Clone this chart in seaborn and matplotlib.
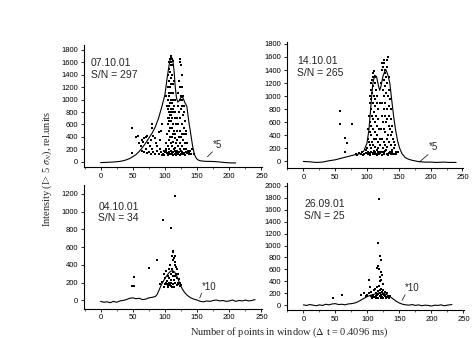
import numpy as np
import matplotlib
matplotlib.use("Agg")
import matplotlib.pyplot as plt
from matplotlib.ticker import MultipleLocator
import seaborn as sns

# ---- data ----
dates = ["07.10.01", "14.10.01", "04.10.01", "26.09.01"]
snr = [297, 265, 34, 25]
scale_marks = ["*5", "*5", "*10", "*10"]

curve1_x = [0, 5, 10, 15, 20, 25, 30, 35, 40, 45, 50, 55, 60, 65, 70, 75, 80, 85, 90, 95, 100, 103, 106, 108,
            110, 112, 114, 116, 118, 120, 122, 125, 128, 131, 134, 137, 140, 143, 146, 149, 152, 155, 160, 165,
            170, 175, 180, 185, 190, 195, 200, 205, 210]
curve1_y = [-15, -12, -10, -8, -5, 0, 5, 15, 30, 50, 80, 115, 165, 230, 300, 380, 460, 560, 700, 880, 1080,
            1320, 1530, 1640, 1690, 1640, 1480, 1200, 1020, 960, 980, 1040, 1030, 950, 890, 650, 450, 250, 110,
            50, 25, 15, 8, 5, 5, 3, 0, -5, -10, -15, -18, -20, -20]

curve2_x = [0, 10, 20, 30, 40, 50, 60, 70, 80, 85, 90, 95, 100, 103, 106, 109, 112, 115, 118, 120, 122, 125,
            128, 130, 133, 136, 139, 142, 145, 148, 151, 155, 160, 165, 170, 175, 180, 190, 200, 210, 220, 230, 240]
curve2_y = [0, -5, -15, -10, 10, 25, 50, 75, 100, 110, 120, 160, 280, 480, 830, 1180, 1320, 1300, 1160, 1090,
            1150, 1300, 1380, 1400, 1320, 1190, 930, 680, 480, 320, 210, 120, 60, 35, 20, 10, 0, -10, -10, -15,
            -10, -15, -15]

curve3_x = [0, 5, 10, 15, 20, 25, 30, 35, 40, 45, 50, 55, 60, 65, 70, 75, 80, 85, 88, 91, 94, 97, 100, 103,
            106, 109, 112, 115, 118, 121, 124, 127, 130, 133, 136, 140, 145, 150, 155, 160, 165, 170, 175, 180,
            185, 190, 195, 200, 205, 210, 215, 220, 225, 230, 235, 240]
curve3_y = [-10, -20, -15, -25, -10, -20, -5, 0, 10, 25, 30, 20, 25, 10, 15, 30, 35, 45, 70, 120, 170, 210,
            250, 280, 310, 330, 335, 320, 280, 230, 170, 130, 95, 70, 50, 30, 15, 5, -10, -15, -5, -10, 0, 5, -5,
            0, -10, -5, 5, -10, 0, -5, 5, -5, 0, 10]

curve4_x = [0, 5, 10, 15, 20, 25, 30, 35, 40, 45, 50, 55, 60, 65, 70, 75, 80, 85, 90, 95, 100, 105, 110, 115,
            120, 125, 130, 135, 140, 145, 150, 155, 160, 165, 170, 175, 180, 185, 190, 195, 200, 205, 210, 215,
            220, 225, 232]
curve4_y = [10, 0, 15, 5, -5, 10, 0, 20, 10, 25, 30, 15, 20, 10, 25, 30, 40, 60, 90, 120, 150, 170, 185, 200,
            215, 205, 180, 150, 110, 70, 40, 20, 10, 5, 15, 0, 10, -5, 5, 0, -10, 5, 0, 10, -5, 5, 15]

dots1 = [(48, 550), (48, 140), (55, 400), (58, 420), (60, 300), (62, 250), (64, 350), (66, 320), (68, 380),
         (70, 400), (72, 420), (74, 300), (76, 250), (78, 350), (80, 600), (80, 550), (82, 420), (84, 380),
         (86, 300), (88, 260), (90, 480), (92, 350), (94, 500), (96, 600), (65, 180), (68, 150), (70, 200),
         (72, 140), (75, 160), (78, 120), (80, 200), (82, 150), (85, 130), (88, 180), (90, 120), (92, 200),
         (94, 150), (96, 110), (98, 180),
         (100, 150), (101, 300), (102, 1050), (102, 200), (103, 900), (103, 450), (104, 1200), (104, 700),
         (104, 120), (105, 1400), (105, 1000), (105, 600), (105, 250), (106, 1500), (106, 1300), (106, 800),
         (106, 350), (106, 150), (107, 1600), (107, 1100), (107, 900), (107, 500), (107, 200), (108, 1650),
         (108, 1450), (108, 1200), (108, 750), (108, 400), (108, 130), (109, 1700), (109, 1550), (109, 1000),
         (109, 650), (109, 300), (110, 1680), (110, 1600), (110, 1350), (110, 850), (110, 550), (110, 180),
         (111, 1650), (111, 1400), (111, 950), (111, 700), (111, 250), (112, 1620), (112, 1250), (112, 800),
         (112, 450), (112, 150), (113, 1550), (113, 1100), (113, 600), (113, 320), (114, 1300), (114, 900),
         (114, 500), (114, 200), (115, 1000), (115, 700), (115, 380), (115, 120), (116, 800), (116, 450),
         (116, 220), (117, 600), (117, 300), (117, 140),
         (106, 1050), (107, 700), (108, 950), (109, 800), (110, 1100), (111, 550), (105, 850), (109, 1250),
         (110, 750), (108, 550), (107, 350), (111, 400), (106, 650), (112, 1000), (113, 850), (110, 300),
         (118, 500), (118, 180), (119, 700), (119, 350), (120, 900), (120, 250), (120, 120), (121, 1100),
         (121, 600), (122, 1300), (122, 800), (122, 400), (122, 150), (123, 1600), (123, 1000), (123, 500),
         (123, 200), (124, 1650), (124, 1200), (124, 700), (124, 300), (125, 1550), (125, 1050), (125, 850),
         (125, 400), (125, 130), (126, 1400), (126, 1000), (126, 600), (126, 250), (127, 1200), (127, 900),
         (127, 450), (127, 160), (128, 1050), (128, 750), (128, 350), (129, 900), (129, 550), (129, 200),
         (130, 800), (130, 450), (130, 130), (131, 650), (131, 300), (132, 500), (132, 200), (133, 450),
         (133, 150), (135, 300), (136, 180), (138, 150), (140, 120), (142, 200), (145, 130),
         (97, 130), (99, 110), (101, 170), (103, 140), (105, 110), (107, 160), (109, 120), (111, 140),
         (113, 110), (115, 170), (117, 100), (119, 130), (121, 160), (123, 110), (125, 180), (127, 120),
         (129, 140), (131, 110), (133, 200), (135, 140), (137, 120), (139, 170)]

dots2 = [(58, 780), (58, 570), (65, 360), (68, 280), (66, 150), (77, 570),
         (82, 120), (85, 100), (88, 130), (90, 110), (92, 150), (94, 100), (96, 120), (98, 180), (99, 130),
         (100, 200), (101, 350), (102, 500), (102, 150), (103, 700), (103, 300), (104, 900), (104, 450),
         (104, 120), (105, 1000), (105, 600), (105, 250), (106, 1100), (106, 800), (106, 400), (106, 150),
         (107, 1200), (107, 950), (107, 550), (107, 200), (108, 1250), (108, 1050), (108, 700), (108, 300),
         (109, 1300), (109, 900), (109, 500), (109, 130), (110, 1350), (110, 1150), (110, 650), (110, 250),
         (111, 1380), (111, 1000), (111, 750), (111, 350), (112, 1300), (112, 850), (112, 450), (112, 150),
         (113, 1200), (113, 950), (113, 600), (113, 220), (114, 1100), (114, 700), (114, 350), (115, 1000),
         (115, 550), (115, 180), (116, 900), (116, 400), (116, 120), (117, 800), (117, 300), (118, 650),
         (118, 200), (119, 500), (120, 350), (120, 150),
         (121, 900), (121, 250), (122, 1200), (122, 500), (123, 1400), (123, 700), (123, 150), (124, 1500),
         (124, 900), (124, 350), (125, 1450), (125, 1100), (125, 600), (125, 200), (126, 1550), (126, 1250),
         (126, 800), (126, 300), (127, 1500), (127, 1000), (127, 500), (127, 130), (128, 1400), (128, 1150),
         (128, 700), (128, 250), (129, 1350), (129, 900), (129, 450), (130, 1300), (130, 1050), (130, 600),
         (130, 180), (131, 1450), (131, 800), (131, 350), (132, 1550), (132, 1200), (132, 650), (132, 220),
         (133, 1600), (133, 1000), (133, 400), (133, 120), (134, 1300), (134, 850), (134, 550), (135, 1100),
         (135, 700), (135, 300), (136, 950), (136, 500), (136, 150), (137, 800), (137, 400), (138, 650),
         (138, 250), (139, 550), (140, 450), (140, 180), (141, 350), (142, 300), (143, 200), (144, 250),
         (145, 150), (146, 120), (148, 140),
         (101, 110), (103, 130), (105, 100), (107, 140), (109, 110), (111, 160), (113, 120), (115, 100),
         (117, 140), (119, 110), (121, 130), (123, 100), (125, 140), (127, 110), (129, 160), (131, 120),
         (133, 100), (135, 130), (137, 110), (139, 140), (141, 120), (143, 110)]

dots3 = [(48, 160), (52, 160), (52, 260), (75, 360), (88, 450), (97, 900), (110, 820), (115, 1170),
         (92, 190), (95, 210), (98, 300), (100, 250), (100, 180), (102, 330), (103, 220), (104, 150),
         (105, 280), (106, 350), (106, 200), (107, 250), (108, 180), (108, 400), (109, 300), (110, 230),
         (110, 160), (111, 500), (111, 350), (112, 560), (112, 270), (112, 190), (113, 540), (113, 450),
         (113, 320), (114, 480), (114, 230), (114, 150), (115, 500), (115, 400), (115, 280), (116, 430),
         (116, 200), (117, 380), (117, 300), (118, 350), (118, 170), (119, 250), (120, 300), (120, 200),
         (121, 180), (122, 240), (123, 160), (124, 200), (125, 170), (103, 180), (105, 160), (107, 170),
         (109, 200), (111, 150), (99, 150), (101, 200)]

dots4 = [(46, 130), (60, 170), (90, 170), (95, 200), (102, 420), (118, 1780), (116, 1050), (120, 820),
         (122, 750), (115, 620), (117, 650), (118, 600), (121, 560), (123, 500), (119, 480), (122, 430),
         (120, 400), (124, 350), (104, 300), (106, 220), (108, 180), (110, 250), (112, 280), (113, 200),
         (114, 160), (115, 300), (116, 240), (117, 190), (118, 330), (119, 260), (120, 210), (121, 170),
         (122, 280), (123, 230), (124, 190), (125, 250), (126, 170), (127, 220), (128, 180), (130, 200),
         (132, 160), (105, 150), (107, 130), (109, 160), (111, 140), (113, 120), (115, 170), (117, 130),
         (119, 150), (121, 120), (123, 140), (125, 130), (127, 150), (129, 130), (131, 140), (133, 120),
         (135, 150), (100, 180), (98, 160), (103, 200)]

# where the "*N" scale marks sit (data coords: leader start, text anchor)
mark_lines = [((166, 80), (174, 160)), ((182, -10), (196, 105)), ((154, 27), (157, 83)), ((154, 83), (159, 178))]
mark_text = [(175, 190), (197, 140), (157, 100), (159, 215)]

ylims = [(-85, 1880), (-100, 1830), (-95, 1300), (-75, 2045)]
ytick_max = [1800, 1800, 1200, 2000]

# ---- layout (figure fractions) ----
boxes = [[0.177, 0.506, 0.376, 0.361],
         [0.605, 0.503, 0.372, 0.373],
         [0.177, 0.086, 0.376, 0.367],
         [0.605, 0.083, 0.374, 0.376]]
text_pos = [(0.04, 0.89), (0.058, 0.885), (0.08, 0.865), (0.10, 0.87)]

sns.set_theme(style="ticks")
plt.rcParams['font.family'] = ['Liberation Sans', 'DejaVu Sans']
plt.rcParams['mathtext.fontset'] = 'stix'

fig = plt.figure(figsize=(4.74, 3.38), dpi=100)

curves = [(curve1_x, curve1_y), (curve2_x, curve2_y), (curve3_x, curve3_y), (curve4_x, curve4_y)]
dot_sets = [dots1, dots2, dots3, dots4]

for i in range(4):
    ax = fig.add_axes(boxes[i])
    d = np.array(dot_sets[i])
    sns.scatterplot(x=d[:, 0], y=d[:, 1], ax=ax, color='black', s=1.8, marker='s',
                    linewidth=0, legend=False)
    cx, cy = curves[i]
    sns.lineplot(x=cx, y=cy, ax=ax, color='black', linewidth=0.8, sort=False, estimator=None)

    (x0, y0), (x1, y1) = mark_lines[i]
    ax.plot([x0, x1], [y0, y1], color='black', linewidth=0.5)
    ax.text(mark_text[i][0], mark_text[i][1], scale_marks[i], fontsize=7, va='bottom', ha='left')

    ax.text(text_pos[i][0], text_pos[i][1], f"{dates[i]}\nS/N = {snr[i]}", transform=ax.transAxes,
            fontsize=7.5, va='top', ha='left', linespacing=1.15)

    ax.set_xlim(-26, 251)
    ax.set_ylim(*ylims[i])
    ax.set_xticks(np.arange(0, 251, 50))
    ax.xaxis.set_minor_locator(MultipleLocator(25))
    ax.set_yticks(np.arange(0, ytick_max[i] + 1, 200))
    ax.tick_params(axis='both', which='major', direction='out', length=2.5, width=0.6,
                   labelsize=5.5, pad=1.5, colors='black')
    ax.tick_params(axis='x', which='minor', direction='out', length=1.5, width=0.5)
    sns.despine(ax=ax)
    for s in ['left', 'bottom']:
        ax.spines[s].set_linewidth(0.8)
        ax.spines[s].set_color('black')
    ax.set_facecolor('white')

fig.text(0.10, 0.5, r"Intensity (I> 5 $\sigma_N$), rel.units", rotation=90, va='center', ha='center',
         fontsize=7.5, family='Liberation Serif')
fig.text(0.61, 0.018, r"Number of points in window ($\Delta$ t = 0.4096 ms)", va='center', ha='center',
         fontsize=7.5, family='Liberation Serif')

fig.savefig("out.png", dpi=100, facecolor='white')
